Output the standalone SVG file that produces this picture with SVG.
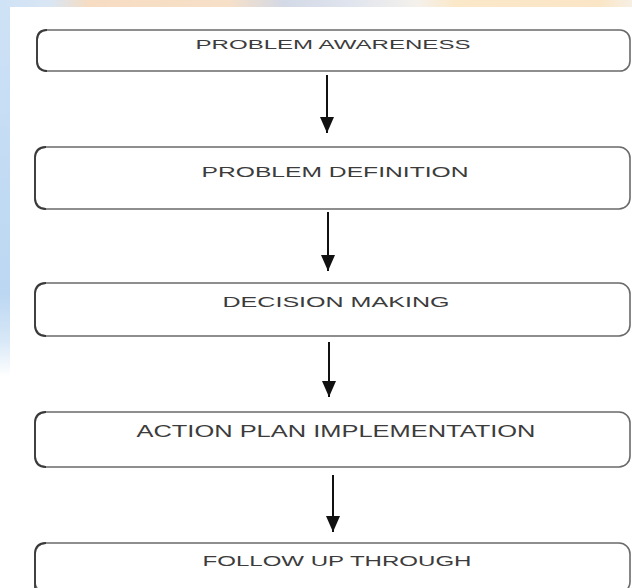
<svg xmlns="http://www.w3.org/2000/svg" width="632" height="588" viewBox="0 0 632 588">
  <defs>
    <linearGradient id="topBand" x1="0" y1="0" x2="1" y2="0">
      <stop offset="0" stop-color="#cfe2f6"/>
      <stop offset="0.08" stop-color="#d9e6f4"/>
      <stop offset="0.14" stop-color="#f6dcc2"/>
      <stop offset="0.36" stop-color="#f7e0c8"/>
      <stop offset="0.45" stop-color="#d3d9e6"/>
      <stop offset="0.55" stop-color="#dfe4ee"/>
      <stop offset="0.66" stop-color="#f4f1ec"/>
      <stop offset="0.72" stop-color="#fbe8c9"/>
      <stop offset="0.95" stop-color="#fae6c6"/>
      <stop offset="1" stop-color="#f7efe4"/>
    </linearGradient>
    <linearGradient id="leftBand" x1="0" y1="0" x2="0" y2="1">
      <stop offset="0" stop-color="#cfe2f6"/>
      <stop offset="0.25" stop-color="#c4dcf4"/>
      <stop offset="0.5" stop-color="#bcd7f2"/>
      <stop offset="0.58" stop-color="#d8e8f7"/>
      <stop offset="0.64" stop-color="#ffffff"/>
      <stop offset="1" stop-color="#ffffff"/>
    </linearGradient>
    <marker id="head" viewBox="0 0 16 14" markerWidth="16" markerHeight="14" refX="16" refY="7" orient="auto" markerUnits="userSpaceOnUse">
      <path d="M0,0 L16,7 L0,14 Z" fill="#111"/>
    </marker>
  </defs>
  <style>
    .box { fill: #ffffff; stroke: #6a6a6a; stroke-width: 1.6; }
    .edge { fill: none; stroke: #3a3a3a; stroke-width: 1.8; }
    .lbl { font-family: "Liberation Sans", Arial, sans-serif; fill: #3c3c3c; text-anchor: middle; }
    .conn { stroke: #111111; stroke-width: 2; fill: none; }
  </style>

  <!-- background -->
  <rect x="0" y="0" width="632" height="588" fill="url(#leftBand)"/>
  <rect x="0" y="0" width="632" height="7" fill="url(#topBand)"/>
  <rect x="10" y="7" width="622" height="581" fill="#ffffff"/>

  <g id="node-awareness">
    <rect class="box" x="37" y="30" width="593" height="41" rx="10" ry="10"/>
    <path class="edge" d="M47,30 Q37,30 37,40 L37,61 Q37,71 47,71"/>
    <text class="lbl" x="333" y="49" font-size="12.5" textLength="275" lengthAdjust="spacingAndGlyphs">PROBLEM AWARENESS</text>
  </g>

  <g id="node-definition">
    <rect class="box" x="35" y="147" width="595" height="62" rx="11" ry="11"/>
    <path class="edge" d="M46,147 Q35,147 35,158 L35,198 Q35,209 46,209"/>
    <text class="lbl" x="335" y="177" font-size="15.5" textLength="267" lengthAdjust="spacingAndGlyphs">PROBLEM DEFINITION</text>
  </g>

  <g id="node-decision">
    <rect class="box" x="35" y="283" width="595" height="53" rx="11" ry="11"/>
    <path class="edge" d="M46,283 Q35,283 35,294 L35,325 Q35,336 46,336"/>
    <text class="lbl" x="336" y="307" font-size="15" textLength="227" lengthAdjust="spacingAndGlyphs">DECISION MAKING</text>
  </g>

  <g id="node-action">
    <rect class="box" x="35" y="412" width="595" height="55" rx="11" ry="11"/>
    <path class="edge" d="M46,412 Q35,412 35,423 L35,456 Q35,467 46,467"/>
    <text class="lbl" x="336" y="437" font-size="16" textLength="399" lengthAdjust="spacingAndGlyphs">ACTION PLAN IMPLEMENTATION</text>
  </g>

  <g id="node-follow">
    <rect class="box" x="35" y="543" width="595" height="50" rx="11" ry="11"/>
    <path class="edge" d="M46,543 Q35,543 35,554 L35,593"/>
    <text class="lbl" x="337" y="566" font-size="14" textLength="269" lengthAdjust="spacingAndGlyphs">FOLLOW UP THROUGH</text>
  </g>

  <g id="connectors">
    <line class="conn" x1="327" y1="75" x2="327" y2="133" marker-end="url(#head)"/>
    <line class="conn" x1="328" y1="212" x2="328" y2="271" marker-end="url(#head)"/>
    <line class="conn" x1="329" y1="342" x2="329" y2="397" marker-end="url(#head)"/>
    <line class="conn" x1="333" y1="475" x2="333" y2="532" marker-end="url(#head)"/>
  </g>
</svg>
